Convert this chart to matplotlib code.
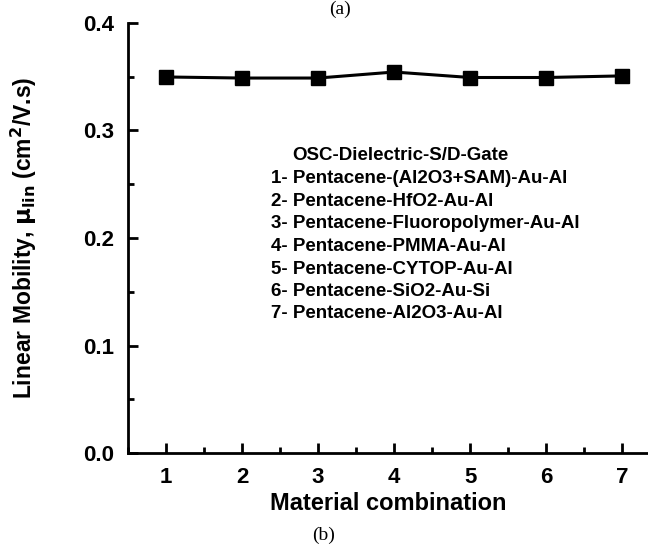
import numpy as np
import matplotlib.pyplot as plt
from matplotlib.ticker import MultipleLocator

plt.rcParams['font.family'] = ['Liberation Sans', 'DejaVu Sans']

# dados
combo = [1, 2, 3, 4, 5, 6, 7]
mobility = [0.3498, 0.3488, 0.3488, 0.3544, 0.3493, 0.3493, 0.3508]
legend_lines = [
    '1- Pentacene-(Al2O3+SAM)-Au-Al',
    '2- Pentacene-HfO2-Au-Al',
    '3- Pentacene-Fluoropolymer-Au-Al',
    '4- Pentacene-PMMA-Au-Al',
    '5- Pentacene-CYTOP-Au-Al',
    '6- Pentacene-SiO2-Au-Si',
    '7- Pentacene-Al2O3-Au-Al',
]

fig = plt.figure(figsize=(6.48, 5.47), dpi=100)
ax = fig.add_axes([128/648, 1 - 453/547, 1 - 128/648, (453 - 23)/547])

ax.plot(combo, mobility, 'k-', lw=2.2, marker='s', ms=9.5)

ax.set_xlim(0.5, 7.34)
ax.set_ylim(0, 0.4)
ax.xaxis.set_major_locator(MultipleLocator(1))
ax.xaxis.set_minor_locator(MultipleLocator(0.5))
ax.yaxis.set_major_locator(MultipleLocator(0.1))
ax.yaxis.set_minor_locator(MultipleLocator(0.05))
ax.tick_params(which='both', direction='in', width=2, labelsize=16)
ax.tick_params(which='major', length=7, pad=10)
ax.tick_params(which='minor', length=4)
for lab in ax.get_xticklabels() + ax.get_yticklabels():
    lab.set_fontweight('bold')
ax.spines['top'].set_visible(False)
ax.spines['right'].set_visible(False)
ax.spines['left'].set_linewidth(2)
ax.spines['bottom'].set_linewidth(2)

ax.set_xlabel('Material combination', fontsize=17, fontweight='bold')
ax.xaxis.set_label_coords(0.5, -0.09)
ax.set_ylabel(r'Linear Mobility, $\mathbf{\mu_{lin}}$ (cm$^\mathbf{2}$/V.s)',
              fontsize=16.5, fontweight='bold')
ax.yaxis.set_label_coords(-0.172, 0.5)

# texto da legenda
fig.text(292/648, 1 - 155/547, 'OSC-Dielectric-S/D-Gate', fontsize=13.5,
         fontweight='bold', va='center')
for i, s in enumerate(legend_lines):
    fig.text(271/648, 1 - (179 + 22.5*i)/547, s, fontsize=13.5,
             fontweight='bold', va='center')

fig.text(340/648, 1 - 1/547, '(a)', fontsize=14, family='Liberation Serif',
         ha='center', va='top')
fig.text(324/648, 1 - 535/547, '(b)', fontsize=14, family='Liberation Serif',
         ha='center', va='center')

fig.savefig('out.png', dpi=100)
